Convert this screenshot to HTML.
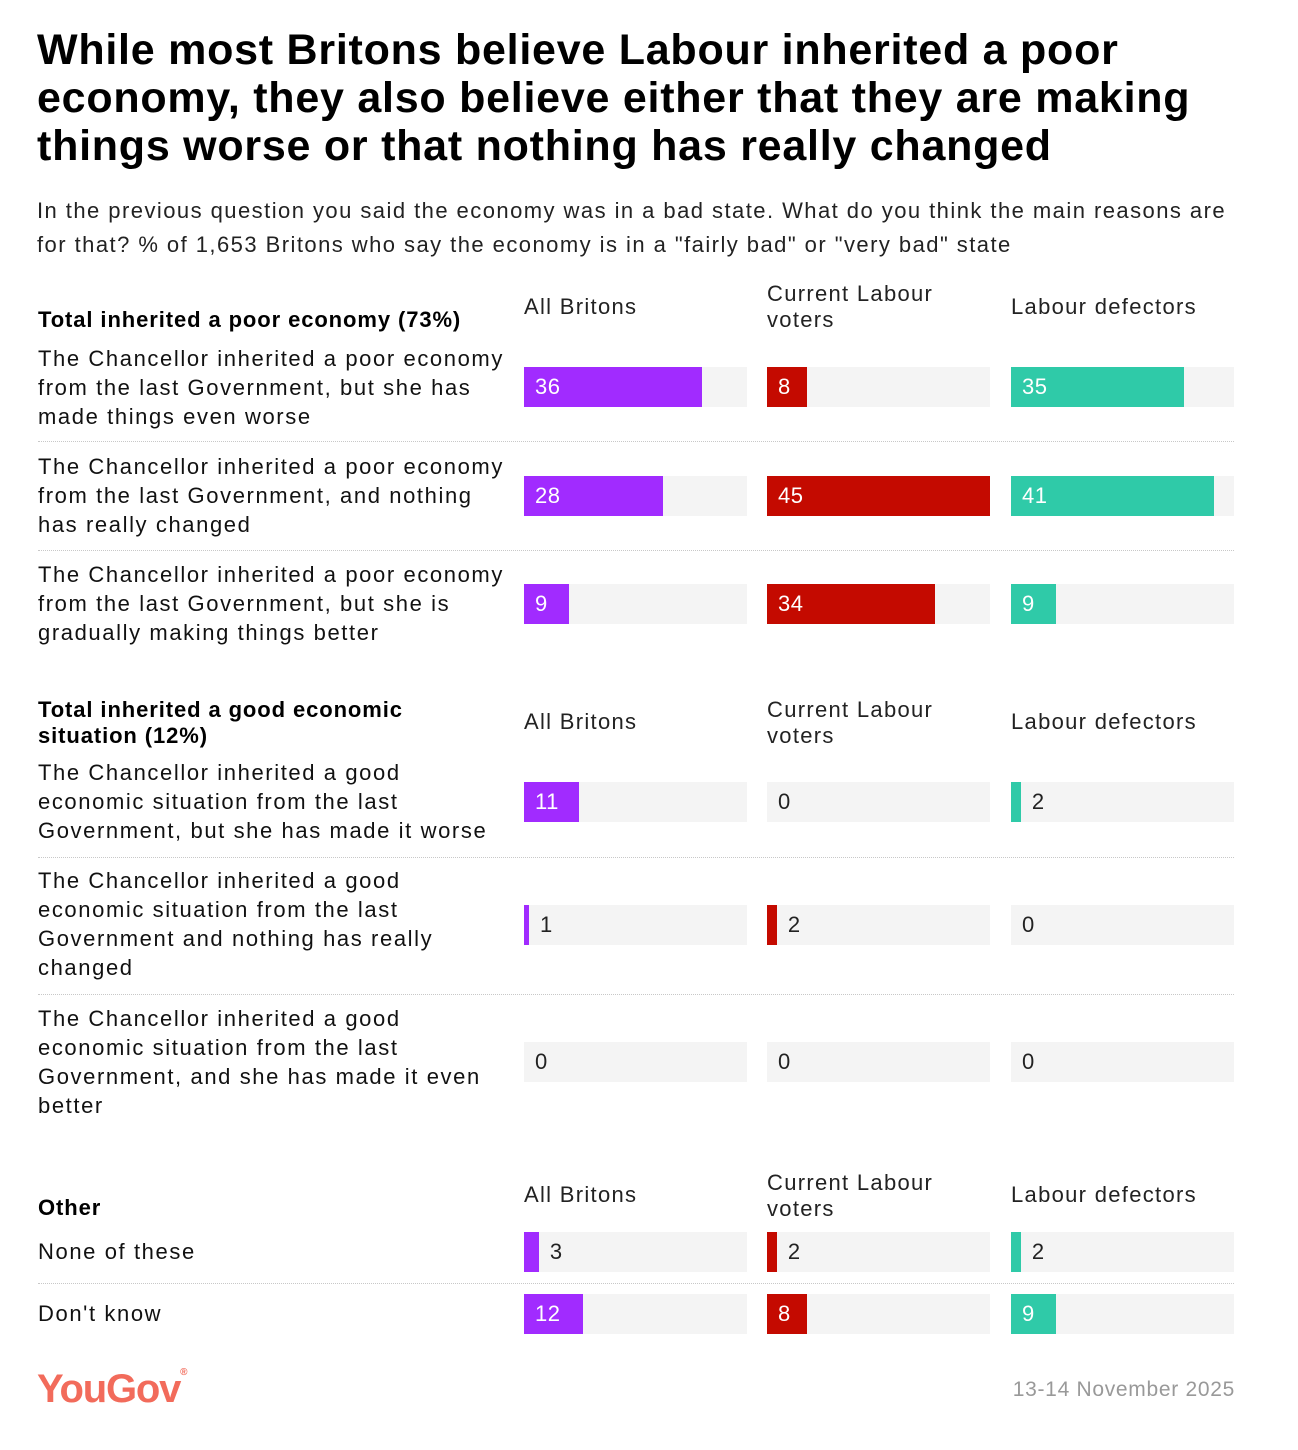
<!DOCTYPE html>
<html><head><meta charset="utf-8">
<style>
body{margin:0;width:1298px;height:1450px;background:#fff;font-family:"Liberation Sans",sans-serif;color:#111;position:relative;overflow:hidden}
.abs{position:absolute}
h1{position:absolute;left:37px;top:26px;margin:0;font-size:43px;line-height:48px;font-weight:bold;letter-spacing:0.75px;width:1260px;color:#000;white-space:nowrap}
.sub{left:37px;top:194px;font-size:22px;line-height:34px;width:1250px;color:#222;letter-spacing:1.45px;white-space:nowrap}
.lbl{left:38px;width:480px;font-size:22px;line-height:29px;color:#111;letter-spacing:1.6px;white-space:pre}
.sec{left:38px;font-size:22px;line-height:26px;font-weight:bold;width:460px;color:#000;letter-spacing:0.9px;white-space:pre}
.col{font-size:22px;line-height:26px;color:#222;letter-spacing:1.3px;white-space:pre}
.bg{background:#f4f4f4;height:40px;width:223px}
.bar{height:40px}
.val{font-size:22px;line-height:40px;height:40px;letter-spacing:0.5px}
.sep{left:38px;width:1196px;border-top:1px dotted #c8c8c8;height:0}
</style></head><body>
<h1>While most Britons believe Labour inherited a poor<br>economy, they also believe either that they are making<br>things worse or that nothing has really changed</h1>
<div class="abs sub">In the previous question you said the economy was in a bad state. What do you think the main reasons are<br>for that? % of 1,653 Britons who say the economy is in a "fairly bad" or "very bad" state</div>
<div id="chart"></div>
<div class="abs" style="left:37px;top:1367px;font-size:40px;font-weight:bold;color:#f26b5b;letter-spacing:-1.2px">YouGov<span style="font-size:10px;vertical-align:top">®</span></div>
<div class="abs" style="right:63px;top:1378px;font-size:21px;color:#999;letter-spacing:0.7px">13-14 November 2025</div>
<script>
const seriesNames=["All Britons","Current Labour\nvoters","Labour defectors"];
const categories=[
"The Chancellor inherited a poor economy\nfrom the last Government, but she has\nmade things even worse",
"The Chancellor inherited a poor economy\nfrom the last Government, and nothing\nhas really changed",
"The Chancellor inherited a poor economy\nfrom the last Government, but she is\ngradually making things better",
"The Chancellor inherited a good\neconomic situation from the last\nGovernment, but she has made it worse",
"The Chancellor inherited a good\neconomic situation from the last\nGovernment and nothing has really\nchanged",
"The Chancellor inherited a good\neconomic situation from the last\nGovernment, and she has made it even\nbetter",
"None of these",
"Don't know"];
const allBritons=[36,28,9,11,1,0,3,12];
const labourVoters=[8,45,34,0,2,0,2,8];
const labourDefectors=[35,41,9,2,0,0,2,9];
const sectionTitles=["Total inherited a poor economy (73%)","Total inherited a good economic\nsituation (12%)","Other"];
const maxVal=45;

const series=[allBritons,labourVoters,labourDefectors];
const colors=["#a12bff","#c40a00","#2fcaa8"];
const colX=[524,767,1011];
const barW=223;
const x=v=>v/maxVal*barW;
const barTop=[367,476,584,782,905,1042,1232,1294];
const labelTop=[344,452,560,758,866,1004,1237,1299];
const sepY=[441,550,857,994,1283];
const secTitleTop=[307,697,1195];
const headTop=[[294,281],[709,697],[1182,1170]];
const chart=document.getElementById('chart');
function mk(cls,style,text){const d=document.createElement('div');d.className='abs '+cls;d.style.cssText=style;if(text!==undefined)d.textContent=text;chart.appendChild(d);return d;}
sectionTitles.forEach((t,s)=>{
  const st=mk('sec','top:'+secTitleTop[s]+'px',t);
  
  
  seriesNames.forEach((n,i)=>{
    const c=mk('col','left:'+colX[i]+'px;top:'+(i===1?headTop[s][1]:headTop[s][0])+'px;width:220px',n);
    
    
  });
});
sepY.forEach(y=>{const s=mk('sep','top:'+y+'px');
  
  });
categories.forEach((c,r)=>{
  const l=mk('lbl','top:'+labelTop[r]+'px',c);
  
  
  series.forEach((arr,i)=>{
    const v=arr[r];
    const bg=mk('bg','left:'+colX[i]+'px;top:'+barTop[r]+'px');
    
    
    const w=x(v);
    if(v>0){const b=mk('bar','left:'+colX[i]+'px;top:'+barTop[r]+'px;width:'+w+'px;background:'+colors[i]);
      
      }
    const inside=w>=38;
    const vl=mk('val','left:'+(colX[i]+(inside?11:w+11))+'px;top:'+barTop[r]+'px;color:'+(inside?'#fff':'#222'),String(v));
    
    
  });
});
</script>
</body></html>
